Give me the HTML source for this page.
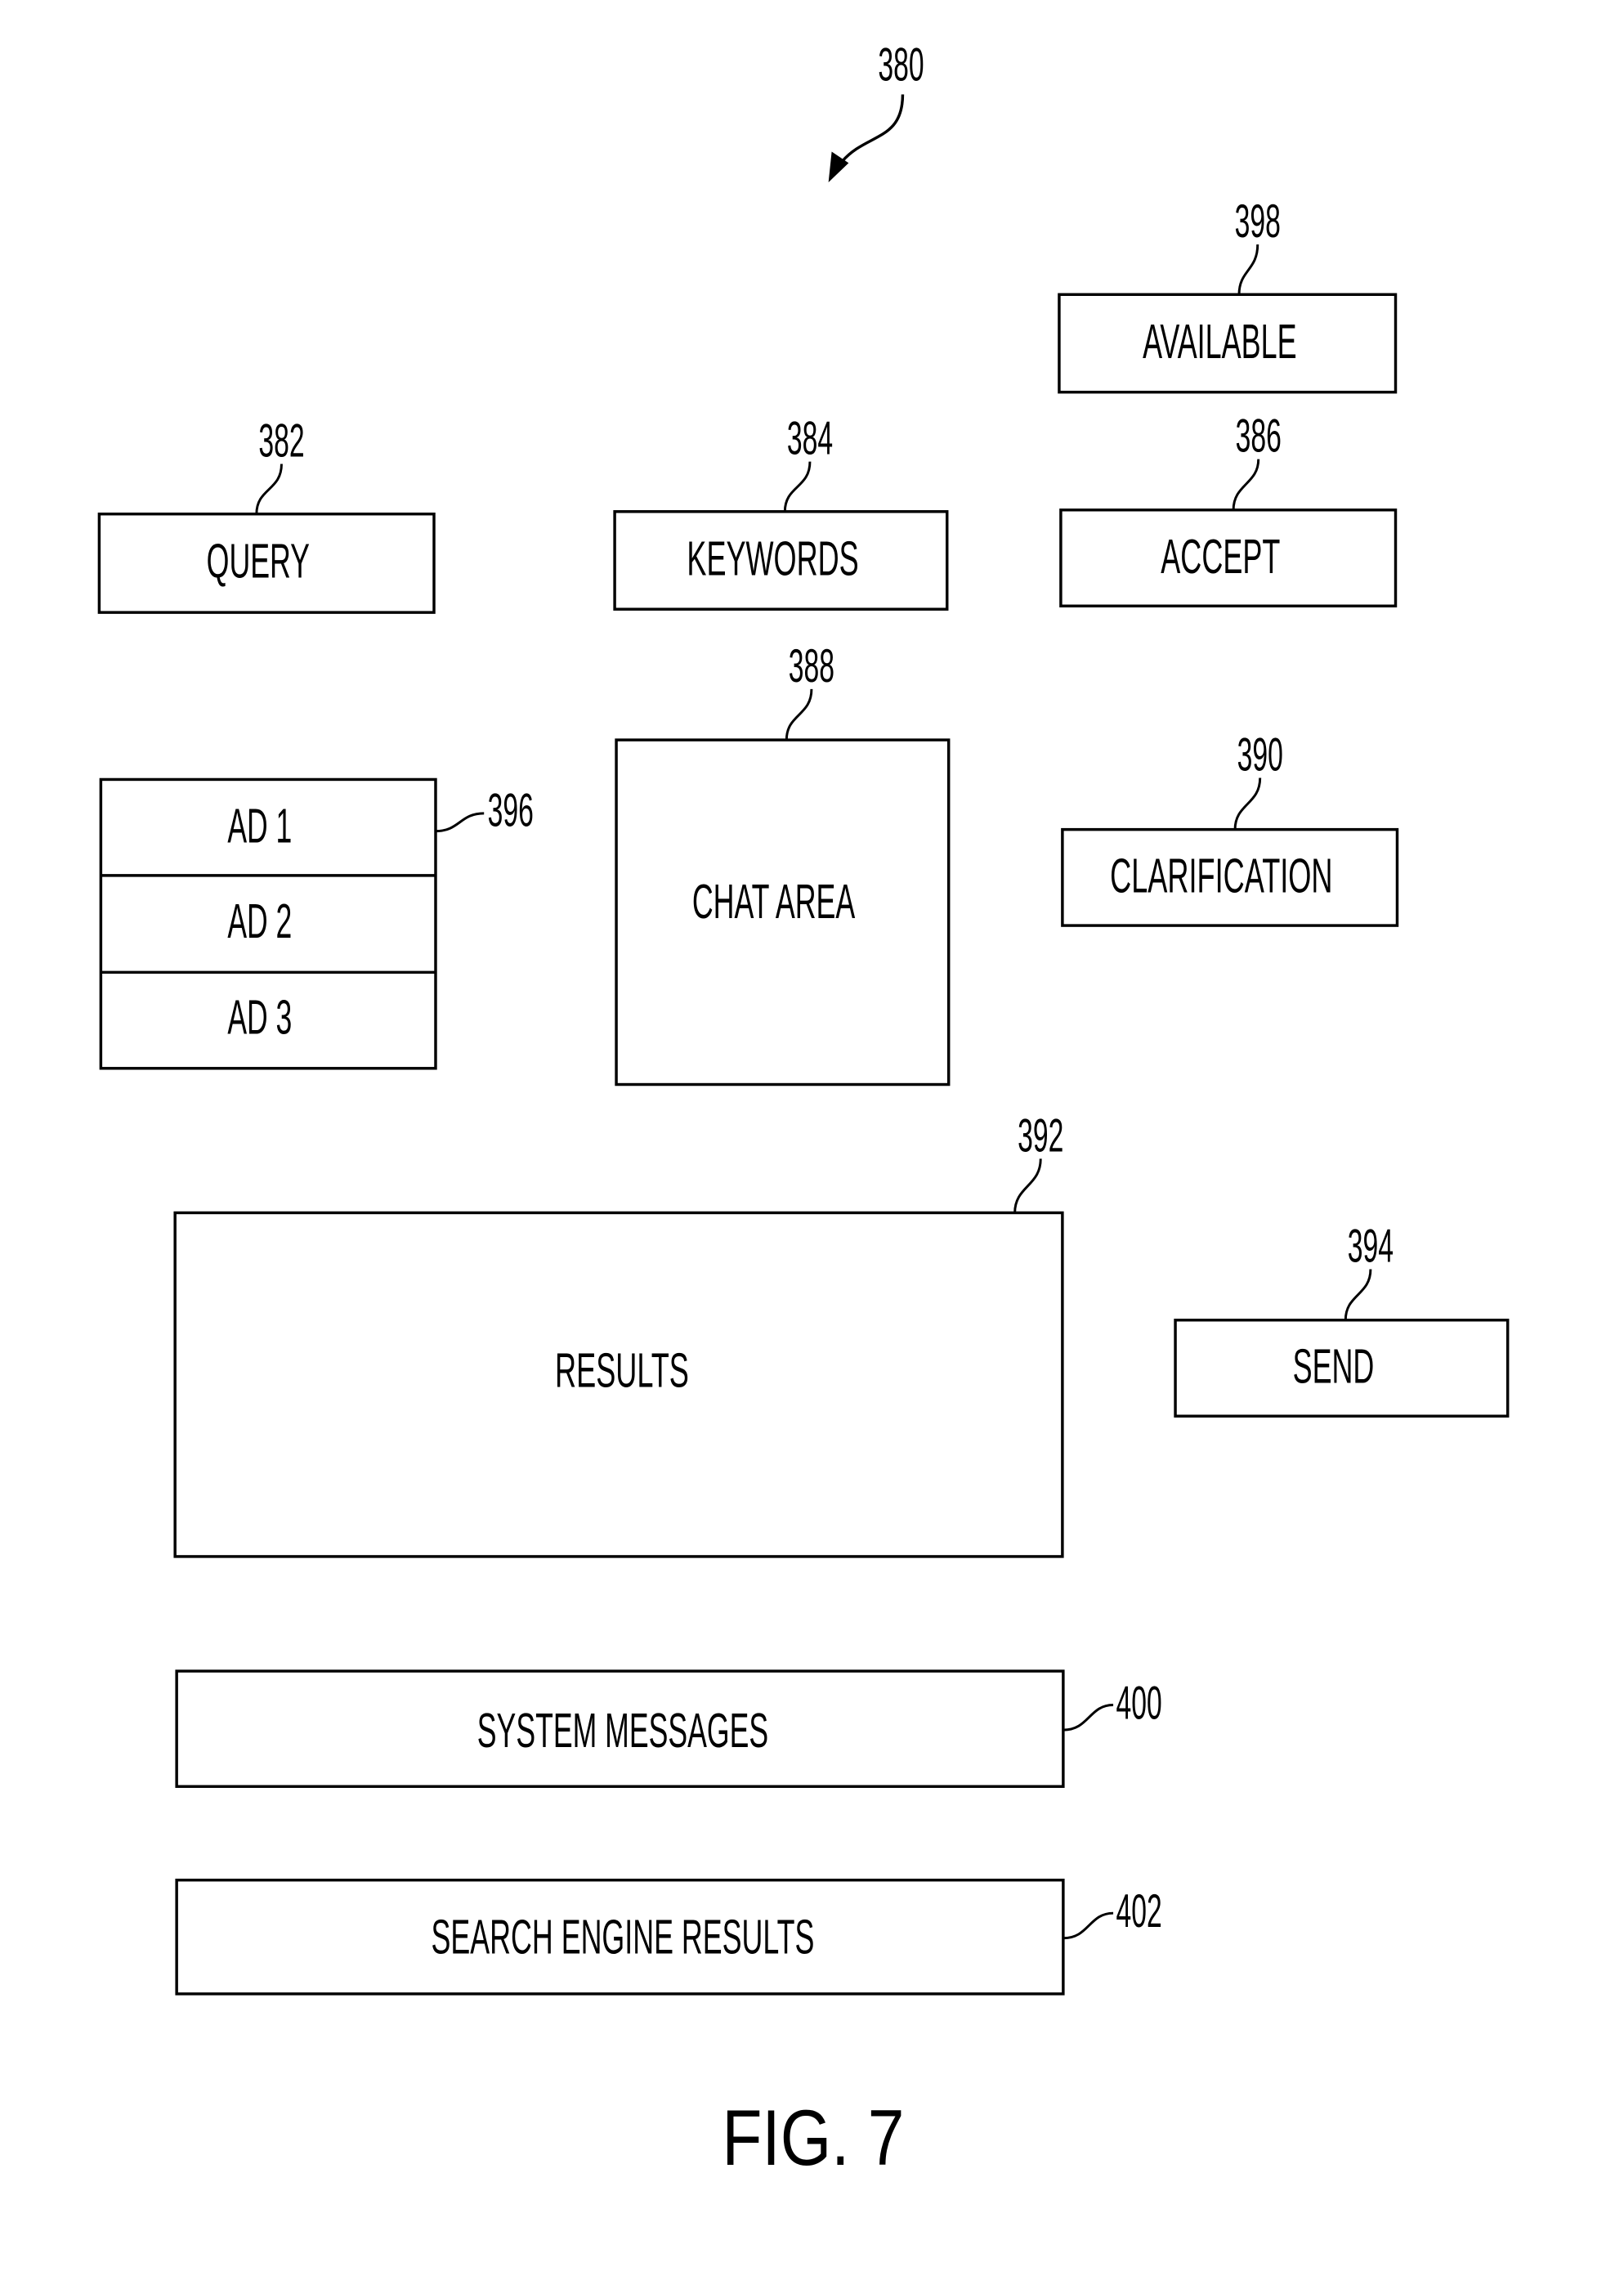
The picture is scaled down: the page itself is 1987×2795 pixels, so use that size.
<!DOCTYPE html>
<html><head><meta charset="utf-8"><style>
html,body{margin:0;padding:0;background:#fff;}
svg{display:block;}
text{font-family:"Liberation Sans",sans-serif;fill:#000;}
</style></head><body>
<svg width="1987" height="2795" viewBox="0 0 1987 2795" xmlns="http://www.w3.org/2000/svg">
<g transform="scale(0.987)">
<g fill="none" stroke="#000" stroke-width="3.5">
<rect x="1313" y="365" width="417" height="121"/>
<rect x="123" y="637" width="415" height="122"/>
<rect x="762" y="634" width="412" height="121"/>
<rect x="1315" y="632" width="415" height="119"/>
<rect x="125" y="966" width="415" height="358"/>
<line x1="125" y1="1085" x2="540" y2="1085"/>
<line x1="125" y1="1205" x2="540" y2="1205"/>
<rect x="764" y="917" width="412" height="427"/>
<rect x="1317" y="1028" width="415" height="119"/>
<rect x="217" y="1503" width="1100" height="426"/>
<rect x="1457" y="1636" width="412" height="119"/>
<rect x="219" y="2071" width="1099" height="143"/>
<rect x="219" y="2330" width="1099" height="141"/>
<path d="M1119,117 C1119,175 1074,165 1044,200"/>
<path d="M1559,303 C1559,335 1536,335 1536,365" stroke-width="3"/>
<path d="M349,575 C349,608 318,605 318,637" stroke-width="3"/>
<path d="M1004,572 C1004,605 973,602 973,634" stroke-width="3"/>
<path d="M1560,569 C1560,600 1529,600 1529,632" stroke-width="3"/>
<path d="M1006,854 C1006,887 975,885 975,917" stroke-width="3"/>
<path d="M1562,964 C1562,997 1531,996 1531,1028" stroke-width="3"/>
<path d="M540,1030 C570,1030 570,1008 600,1008" stroke-width="3"/>
<path d="M1290,1436 C1290,1470 1258,1470 1258,1503" stroke-width="3"/>
<path d="M1699,1573 C1699,1605 1668,1604 1668,1636" stroke-width="3"/>
<path d="M1318,2144 C1350,2144 1350,2113 1380,2113" stroke-width="3"/>
<path d="M1318,2402 C1350,2402 1350,2371 1380,2371" stroke-width="3"/>
</g>
<polygon points="1031,188 1052,202 1027,226" fill="#000"/>
<g font-size="58" text-anchor="middle">
<text x="1117" y="100" textLength="57" lengthAdjust="spacingAndGlyphs">380</text>
<text x="1559" y="294" textLength="57" lengthAdjust="spacingAndGlyphs">398</text>
<text x="349" y="566" textLength="57" lengthAdjust="spacingAndGlyphs">382</text>
<text x="1004" y="563" textLength="57" lengthAdjust="spacingAndGlyphs">384</text>
<text x="1560" y="560" textLength="57" lengthAdjust="spacingAndGlyphs">386</text>
<text x="1006" y="845" textLength="57" lengthAdjust="spacingAndGlyphs">388</text>
<text x="1562" y="955" textLength="57" lengthAdjust="spacingAndGlyphs">390</text>
<text x="633" y="1024" textLength="57" lengthAdjust="spacingAndGlyphs">396</text>
<text x="1290" y="1427" textLength="57" lengthAdjust="spacingAndGlyphs">392</text>
<text x="1699" y="1564" textLength="57" lengthAdjust="spacingAndGlyphs">394</text>
<text x="1412" y="2130" textLength="57" lengthAdjust="spacingAndGlyphs">400</text>
<text x="1412" y="2388" textLength="57" lengthAdjust="spacingAndGlyphs">402</text>
</g>
<g font-size="60" text-anchor="middle">
<text x="1512" y="444" textLength="191" lengthAdjust="spacingAndGlyphs">AVAILABLE</text>
<text x="320" y="716" textLength="128" lengthAdjust="spacingAndGlyphs">QUERY</text>
<text x="958" y="713" textLength="213" lengthAdjust="spacingAndGlyphs">KEYWORDS</text>
<text x="1513" y="710" textLength="148" lengthAdjust="spacingAndGlyphs">ACCEPT</text>
<text x="322" y="1044" textLength="80" lengthAdjust="spacingAndGlyphs">AD 1</text>
<text x="322" y="1162" textLength="80" lengthAdjust="spacingAndGlyphs">AD 2</text>
<text x="322" y="1281" textLength="80" lengthAdjust="spacingAndGlyphs">AD 3</text>
<text x="959" y="1138" textLength="202" lengthAdjust="spacingAndGlyphs">CHAT AREA</text>
<text x="1514" y="1106" textLength="276" lengthAdjust="spacingAndGlyphs">CLARIFICATION</text>
<text x="771" y="1719" textLength="166" lengthAdjust="spacingAndGlyphs">RESULTS</text>
<text x="1653" y="1714" textLength="101" lengthAdjust="spacingAndGlyphs">SEND</text>
<text x="772" y="2165" textLength="361" lengthAdjust="spacingAndGlyphs">SYSTEM MESSAGES</text>
<text x="772" y="2421" textLength="475" lengthAdjust="spacingAndGlyphs">SEARCH ENGINE RESULTS</text>
</g>
<text x="1008" y="2683" font-size="98" text-anchor="middle" textLength="226" lengthAdjust="spacingAndGlyphs">FIG. 7</text>
</g>
</svg>
</body></html>
